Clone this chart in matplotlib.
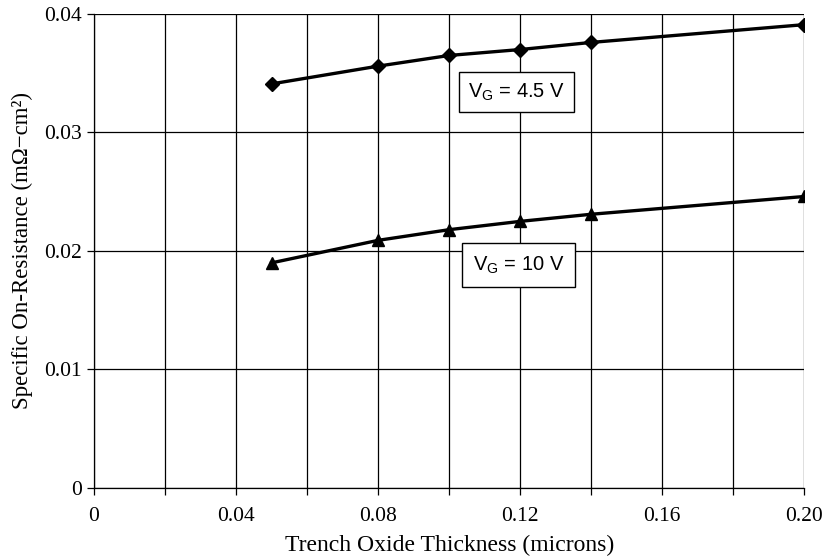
import matplotlib
matplotlib.use('Agg')
import matplotlib.pyplot as plt
from matplotlib.ticker import MultipleLocator

# data
thickness = [0.05, 0.08, 0.10, 0.12, 0.14, 0.20]
ron_45v = [0.0341, 0.0356, 0.0365, 0.0370, 0.0376, 0.0391]
ron_10v = [0.0190, 0.0209, 0.0218, 0.0225, 0.0231, 0.0246]
x_ticks = [0, 0.04, 0.08, 0.12, 0.16, 0.20]
x_ticklabels = ['0', '0.04', '0.08', '0.12', '0.16', '0.20']
y_ticks = [0, 0.01, 0.02, 0.03, 0.04]
y_ticklabels = ['0', '0.01', '0.02', '0.03', '0.04']

plt.rcParams['font.family'] = 'Liberation Serif'
plt.rcParams['mathtext.fontset'] = 'custom'
plt.rcParams['mathtext.rm'] = 'Liberation Sans'
plt.rcParams['mathtext.it'] = 'Liberation Sans'

fig = plt.figure(figsize=(8.25, 5.59), dpi=100)
ax = fig.add_axes([0.114, 0.127, 0.861, 0.848])

ax.plot(thickness, ron_45v, color='black', lw=2.4, marker='D', ms=7, zorder=3)
ax.plot(thickness, ron_10v, color='black', lw=2.4, marker='^', ms=9, zorder=3)

ax.set_xlim(0, 0.20)
ax.set_ylim(0, 0.04)
ax.set_xticks(x_ticks)
ax.set_xticklabels(x_ticklabels)
ax.xaxis.set_minor_locator(MultipleLocator(0.02))
ax.set_yticks(y_ticks)
ax.set_yticklabels(y_ticklabels)
ax.grid(True, which='both', color='black', lw=0.9)
ax.tick_params(which='both', direction='out', length=5, width=0.9,
               labelsize=15.5, colors='black')
ax.tick_params(axis='x', pad=9)
for s in ax.spines.values():
    s.set_linewidth(0.9)
ax.spines['top'].set_visible(False)
ax.spines['right'].set_visible(False)

ax.set_xlabel('Trench Oxide Thickness (microns)', fontsize=17, labelpad=6)
ax.set_ylabel('Specific On-Resistance (mΩ\u2212cm²)', fontsize=16.5, labelpad=8)

box = dict(boxstyle='square,pad=0.45', fc='white', ec='black', lw=1)
ax.text(0.119, 0.0334, r'V$_{\rm G}$ = 4.5 V', fontsize=14.5,
        family='Liberation Sans', ha='center', va='center', bbox=box, zorder=4)
ax.text(0.1195, 0.0188, r'V$_{\rm G}$ = 10 V', fontsize=14.5,
        family='Liberation Sans', ha='center', va='center',
        bbox=dict(boxstyle='square,pad=0.55', fc='white', ec='black', lw=1),
        zorder=4)

fig.savefig('out.png', dpi=100)
